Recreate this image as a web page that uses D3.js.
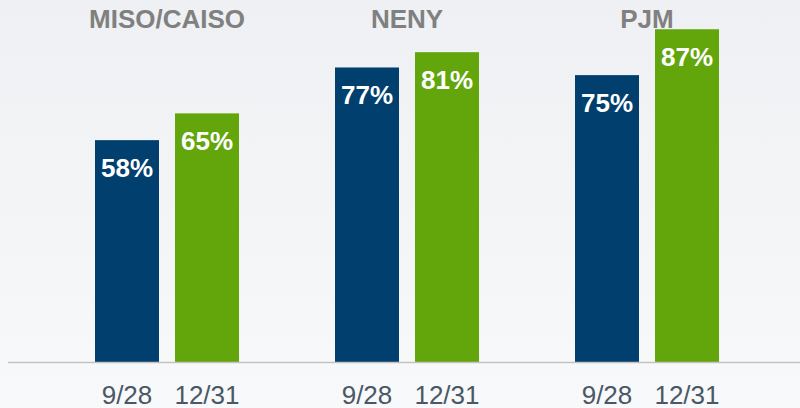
<!DOCTYPE html>
<html lang="en">
<head>
<meta charset="utf-8">
<title>Bars</title>
<script src="https://d3js.org/d3.v7.min.js"></script>
<style>
  body { margin: 0; padding: 0; }
  svg { display: block; font-family: 'Liberation Sans', Arial, sans-serif; }
  .title { font-size: 26px; font-weight: bold; fill: #808080; }
  .value { font-size: 26px; font-weight: bold; fill: #ffffff; }
  .date  { font-size: 26px; fill: #4a5766; }
</style>
</head>
<body>
<div id="chart"></div>
<script>
// data
var regions = ["MISO/CAISO", "NENY", "PJM"];
var dates = ["9/28", "12/31"];
var sep28 = [58, 77, 75];
var dec31 = [65, 81, 87];

var width = 800, height = 408;
var baseY = 362;

var svg = d3.select("#chart").append("svg")
  .attr("width", width)
  .attr("height", height);

// background gradient
var grad = svg.append("defs").append("linearGradient")
  .attr("id", "bg").attr("x1", 0).attr("y1", 0).attr("x2", 0).attr("y2", 1);
grad.append("stop").attr("offset", "0%").attr("stop-color", "#eef0f3");
grad.append("stop").attr("offset", "100%").attr("stop-color", "#f8f9fa");
svg.append("rect").attr("width", width).attr("height", height).attr("fill", "url(#bg)");

// scales
var x0 = d3.scaleBand().domain(regions).range([47, 767]).paddingInner(0).paddingOuter(0);
var x1 = d3.scaleBand().domain(dates).range([0, 144]).paddingInner(0.2);
var y = d3.scaleLinear().domain([0, 100]).range([baseY, baseY - 382.5]);
var color = d3.scaleOrdinal().domain(dates).range(["#003f6e", "#62a60c"]);

var rows = regions.map(function(r, i) {
  return { region: r, values: [{ date: "9/28", v: sep28[i] }, { date: "12/31", v: dec31[i] }] };
});

var groups = svg.selectAll("g.grp").data(rows).enter().append("g")
  .attr("class", "grp")
  .attr("transform", function(d) { return "translate(" + (x0(d.region) + (x0.bandwidth() - 144) / 2) + ",0)"; });

groups.selectAll("rect").data(function(d) { return d.values; }).enter().append("rect")
  .attr("x", function(d) { return x1(d.date); })
  .attr("y", function(d) { return y(d.v); })
  .attr("width", x1.bandwidth())
  .attr("height", function(d) { return baseY - y(d.v); })
  .attr("fill", function(d) { return color(d.date); });

groups.selectAll("text.value").data(function(d) { return d.values; }).enter().append("text")
  .attr("class", "value")
  .attr("text-anchor", "middle")
  .attr("x", function(d) { return x1(d.date) + x1.bandwidth() / 2; })
  .attr("y", function(d) { return y(d.v) + 37; })
  .text(function(d) { return d.v + "%"; });

groups.selectAll("text.date").data(function(d) { return d.values; }).enter().append("text")
  .attr("class", "date")
  .attr("text-anchor", "middle")
  .attr("x", function(d) { return x1(d.date) + x1.bandwidth() / 2; })
  .attr("y", 404)
  .text(function(d) { return d.date; });

groups.append("text")
  .attr("class", "title")
  .attr("text-anchor", "middle")
  .attr("x", 72)
  .attr("y", 28)
  .text(function(d) { return d.region; });

// baseline
svg.append("line")
  .attr("x1", 8).attr("x2", width)
  .attr("y1", baseY + 0.5).attr("y2", baseY + 0.5)
  .attr("stroke", "#c3c3c3").attr("stroke-width", 1.5);
</script>
</body>
</html>
